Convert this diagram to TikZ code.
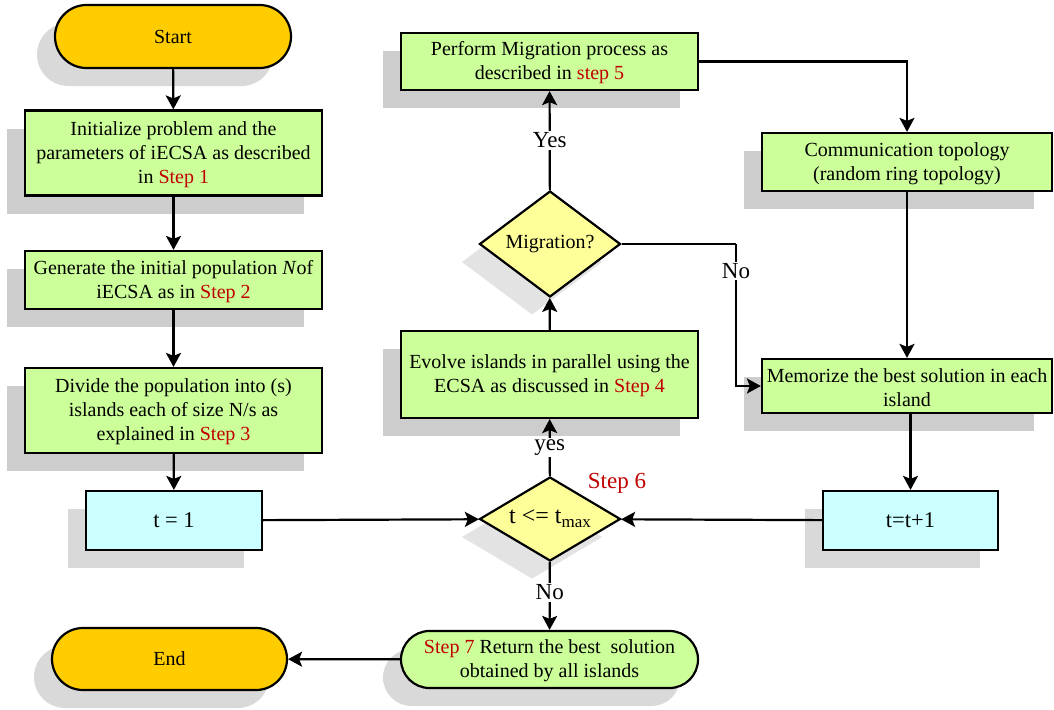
\documentclass[tikz,border=0pt]{standalone}
\usepackage{fontspec}
\setmainfont{Liberation Serif}
\usetikzlibrary{shapes.geometric,shapes.misc,shadows,arrows.meta}

\definecolor{termfill}{HTML}{FFCC00}
\definecolor{procfill}{HTML}{CCFF99}
\definecolor{counterfill}{HTML}{CCFFFF}
\definecolor{decfill}{HTML}{FFFF99}
\definecolor{stepred}{HTML}{C00000}
\definecolor{shadowdark}{HTML}{CDCDCD}
\definecolor{shadowmid}{HTML}{D9D9D9}
\definecolor{shadowlight}{HTML}{E3E3E3}

\newcommand{\stepref}[1]{\textcolor{stepred}{#1}}

\begin{document}
\begin{tikzpicture}[x=1pt,y=-1pt,
  base/.style={draw=black, line width=2.2pt, inner sep=0pt, align=center,
    font=\fontsize{20pt}{24pt}\selectfont},
  sh/.style={drop shadow={shadow xshift=-18pt, shadow yshift=-18pt,
    opacity=1, fill=#1}},
  terminal/.style={base, rounded rectangle, fill=termfill, sh=shadowmid},
  procbox/.style={base, rectangle, fill=procfill, sh=shadowdark,
    minimum width=297pt},
  roundproc/.style={base, rounded rectangle, fill=procfill, sh=shadowmid},
  counterbox/.style={base, rectangle, fill=counterfill, sh=shadowmid,
    font=\fontsize{22.5pt}{26pt}\selectfont},
  decision/.style={base, diamond, fill=decfill, sh=shadowlight},
  flow/.style={line width=2.2pt, -{Stealth[length=14pt, width=15pt, inset=3pt]}},
  plain/.style={line width=2.2pt},
  edgelabel/.style={fill=white, inner sep=1.5pt,
    font=\fontsize{23pt}{25pt}\selectfont}
]
\useasboundingbox (0,0) rectangle (1054,709);

% ---- left column ----
\node[terminal, minimum width=236pt, minimum height=63pt] (start) at (173,36.5) {Start};
\node[procbox, minimum height=85pt] (init) at (173.5,153)
  {\rule{0pt}{17pt}Initialize problem and the\\parameters of iECSA as described\\in \stepref{Step 1}};
\node[procbox, minimum height=58pt] (gen) at (173.5,280)
  {\rule{0pt}{17pt}Generate the initial population \textit{N}of\\iECSA as in \stepref{Step 2}};
\node[procbox, minimum height=85pt] (divide) at (173.5,410.5)
  {\rule{0pt}{17pt}Divide the population into (s)\\islands each of size N/s as\\explained in \stepref{Step 3}};
\node[counterbox, minimum width=176pt, minimum height=59pt] (tone) at (174,520.5) {t = 1};
\node[terminal, minimum width=235pt, minimum height=62pt] (finish) at (169.5,659) {End};

% ---- middle column ----
\node[procbox, minimum height=57pt] (migrate) at (549.5,61.5)
  {\rule{0pt}{17pt}Perform Migration process as\\described in \stepref{step 5}};
\node[decision, minimum width=141pt, minimum height=106pt, shape aspect=1.33] (migq) at (550,244)
  {Migration?};
\node[procbox, minimum height=87pt] (evolve) at (549.5,374.5)
  {\rule{0pt}{17pt}Evolve islands in parallel using the\\ECSA as discussed in \stepref{Step 4}};
\node[decision, minimum width=141pt, minimum height=84pt, shape aspect=1.68,
  font=\fontsize{24pt}{26pt}\selectfont] (tq) at (550,519)
  {t <= t\raisebox{-0.35ex}{\fontsize{17pt}{17pt}\selectfont max}};
\node[text=stepred, font=\fontsize{23pt}{25pt}\selectfont] (stepsix) at (617,483) {Step 6};
\node[roundproc, minimum width=297pt, minimum height=57pt] (best) at (549.5,659.5)
  {\rule{0pt}{17pt}\stepref{Step 7} Return the best \ solution\\obtained by all islands};

% ---- right column ----
\node[procbox, minimum width=290pt, minimum height=58pt] (comm) at (907,162)
  {\rule{0pt}{17pt}Communication topology\\(random ring topology)};
\node[procbox, minimum width=290pt, minimum height=54pt] (memo) at (907,386)
  {\rule{0pt}{17pt}Memorize the best solution in each\\island};
\node[counterbox, minimum width=175pt, minimum height=59pt] (tinc) at (910.5,520.5) {t=t+1};

\coordinate (nobend) at (736,244);

% ---- connectors ----
\draw[flow] (start) -- (init);
\draw[flow] (init) -- (gen);
\draw[flow] (gen) -- (divide);
\draw[flow] (divide) -- (tone);
\draw[flow] (tone) -- (tq);
\draw[flow] (tinc) -- (tq);
\draw[flow] (best) -- (finish);
\draw[flow] (tq) -- node[edgelabel, pos=0.5] {yes} (evolve);
\draw[flow] (tq) -- node[edgelabel, pos=0.45] {No} (best);
\draw[flow] (evolve) -- (migq);
\draw[flow] (migq) -- node[edgelabel, pos=0.5] {Yes} (migrate);
\draw[flow] (migrate.east) -| (comm.north);
\draw[flow] (comm) -- (memo);
\draw[flow] (tinc.north |- memo.south) -- (tinc.north);
\draw[plain] (migq.east) -- (nobend);
\draw[flow] (nobend) |- node[edgelabel, pos=0.095] {No} (memo.west);
\end{tikzpicture}
\end{document}
